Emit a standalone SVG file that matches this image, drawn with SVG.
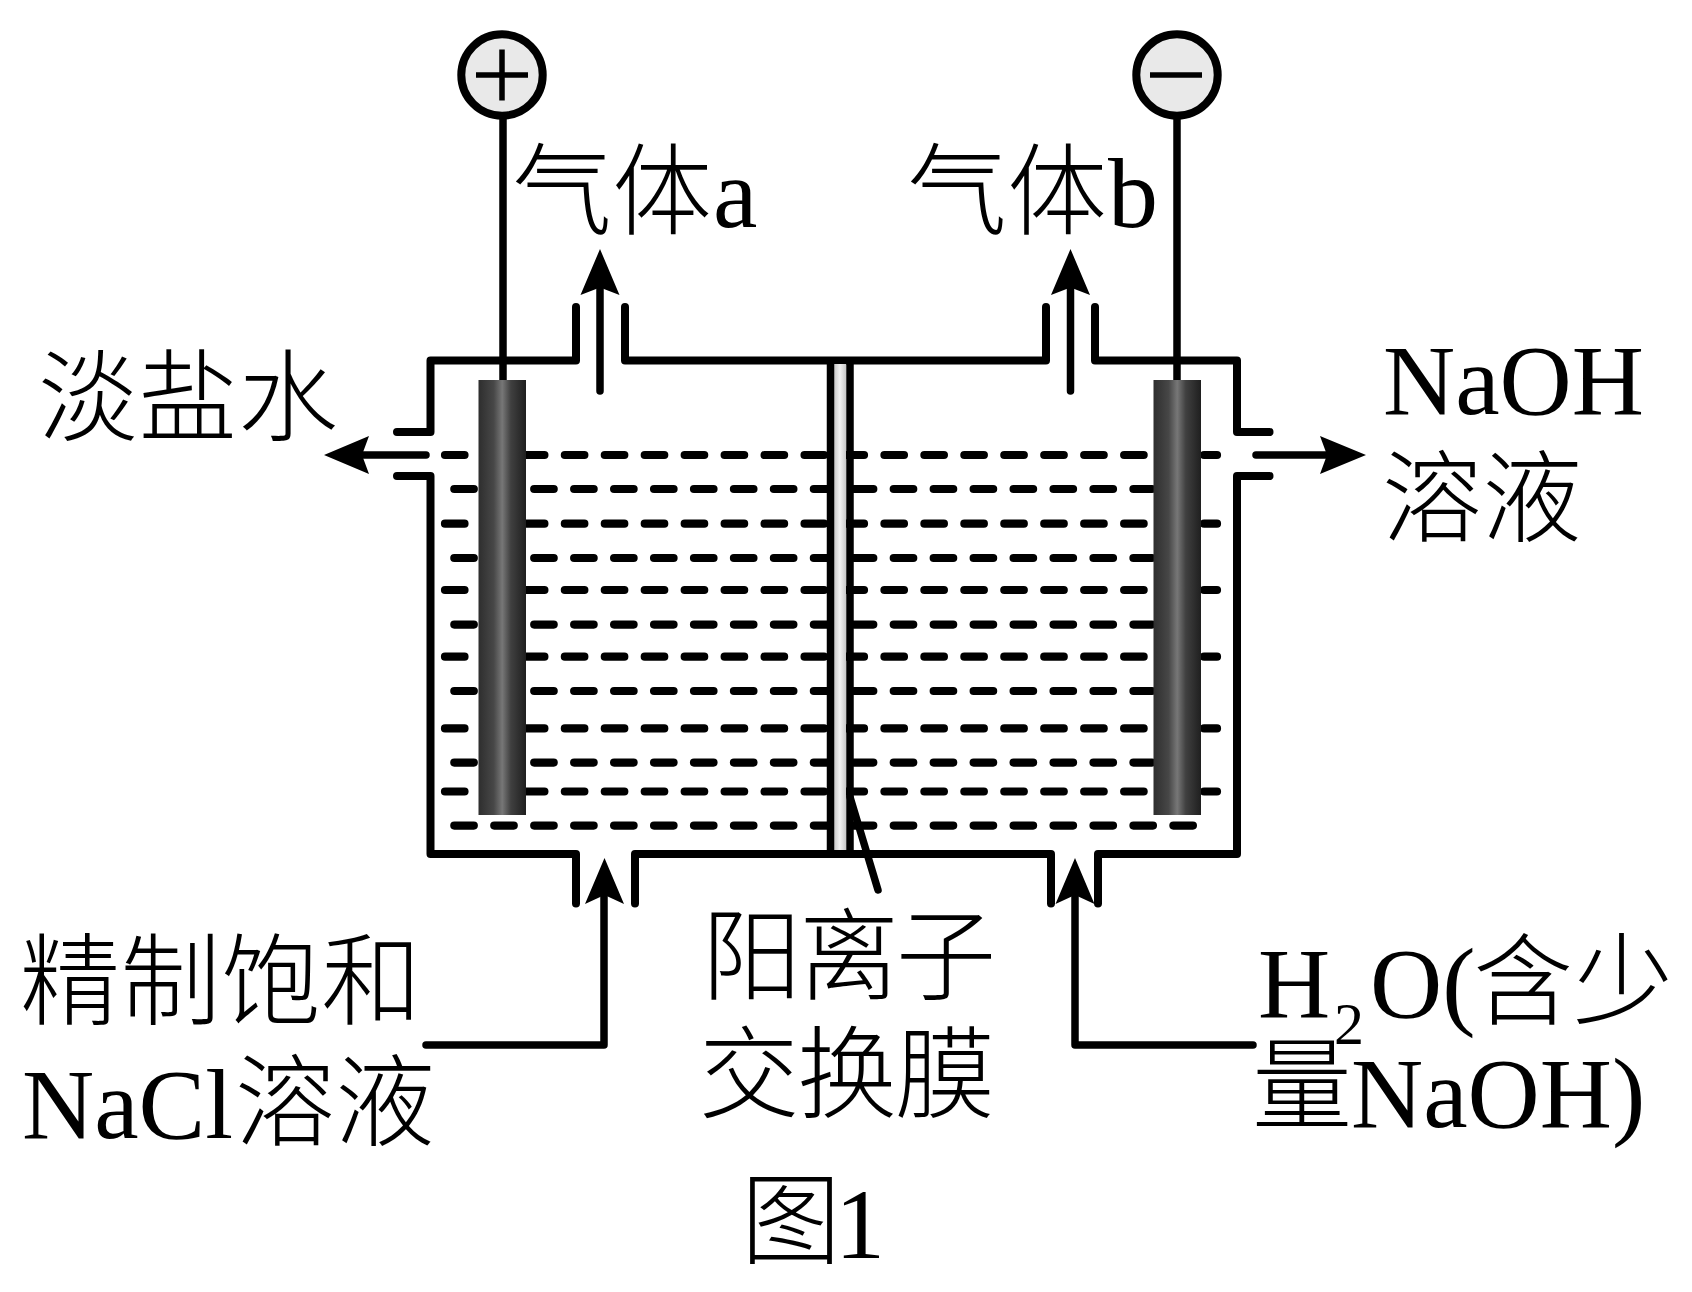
<svg xmlns="http://www.w3.org/2000/svg" width="1692" height="1292" viewBox="0 0 1692 1292">
<style>
.t{font-family:"Liberation Serif","Noto Sans CJK SC",serif;font-size:100px;font-weight:300;fill:#000}
.sub{font-size:60px}
.wall{fill:none;stroke:#000;stroke-width:8;stroke-linecap:round;stroke-linejoin:round}
.flow{fill:none;stroke:#000;stroke-width:7.5;stroke-linecap:round;stroke-linejoin:round}
.wire{fill:none;stroke:#000;stroke-width:7.5}
.liq{fill:none;stroke:#000;stroke-width:8.2;stroke-linecap:round;stroke-dasharray:19.5 20.45}
.head{fill:#000}
.term{fill:#e9e9e9;stroke:#000;stroke-width:8}
.sign{stroke:#000;stroke-width:5.5;fill:none}
</style>
<defs>
<linearGradient id="rod" x1="0" x2="1" y1="0" y2="0">
<stop offset="0" stop-color="#2e2e2e"/><stop offset=".32" stop-color="#474747"/><stop offset=".5" stop-color="#777"/><stop offset=".68" stop-color="#404040"/><stop offset="1" stop-color="#1f1f1f"/>
</linearGradient>
<linearGradient id="mem" x1="0" x2="1" y1="0" y2="0">
<stop offset="0" stop-color="#c8c8c8"/><stop offset=".5" stop-color="#f2f2f2"/><stop offset="1" stop-color="#c8c8c8"/>
</linearGradient>
<path id="up" d="M0 0L19.5 46L0 38.500L-19.500 46Z"/>
</defs>
<g id="liquid">
<path class="liq" d="M445 455H1217M445 523.700H1217M445 590H1217M445 656.700H1217M445 728.400H1217M445 791.500H1217"/>
<path class="liq" d="M454.300 489H1152M454.300 558H1152M454.300 624.600H1152M454.300 691H1152M454.300 762.600H1152"/>
<path class="liq" d="M454.300 825.600H1194.500"/>
</g>
<g id="tank">
<path class="wall" d="M397 432H430.500V360.500H576V307M625 307V360.500H1046V307M1095 307V360.500H1237V432H1269.500"/>
<path class="wall" d="M397 476H430.500V854H576V903.500M635 903.500V854H1051V903.500M1098 903.500V854H1237V476H1269.500"/>
</g>
<g id="membrane">
<rect x="834" y="364" width="12" height="486" fill="url(#mem)"/>
<path class="wire" d="M830.500 360.500V854M850 360.500V854"/>
</g>
<g id="anode">
<path class="wire" d="M503 119V381"/>
<rect x="478.500" y="380" width="47.500" height="435" fill="url(#rod)"/>
<circle class="term" cx="502" cy="75" r="40.700"/>
<path class="sign" d="M476 75H528M502 49.500V100.500"/>
</g>
<g id="cathode">
<path class="wire" d="M1177 119V381"/>
<rect x="1153.500" y="380" width="47.500" height="435" fill="url(#rod)"/>
<circle class="term" cx="1177" cy="75" r="40.700"/>
<path class="sign" d="M1150 75H1202"/>
</g>
<g id="connectors">
<path class="flow" d="M600 391V285"/>
<use href="#up" class="head" x="600" y="249"/>
<path class="flow" d="M1070.500 391V285"/>
<use href="#up" class="head" x="1070.500" y="249"/>
<path class="flow" d="M426 455H355"/>
<path class="head" d="M324 455L369 436L362 455L369 474Z"/>
<path class="flow" d="M1256 455H1330"/>
<path class="head" d="M1366 455L1320 436L1327 455L1320 474Z"/>
<path class="flow" d="M426 1045H604V890"/>
<path class="head" d="M604.500 858L624 904L604.500 895L585 904Z"/>
<path class="flow" d="M1253 1045H1075V890"/>
<path class="head" d="M1075 858L1094.500 904L1075 895L1055.500 904Z"/>
<path class="flow" d="M850 797L878 890"/>
</g>
<g id="labels">
<text class="t" x="38" y="433">淡盐水</text>
<text class="t" x="512" y="227">气体<tspan x="713">a</tspan></text>
<text class="t" x="907" y="227">气体<tspan x="1108">b</tspan></text>
<text class="t" x="1383" y="414">NaOH</text>
<text class="t" x="1382" y="534">溶液</text>
<text class="t" x="20" y="1017" letter-spacing="0.5">精制饱和</text>
<text class="t" x="22" y="1138">NaCl<tspan x="235">溶液</tspan></text>
<text class="t" x="702" y="992" letter-spacing="-3">阳离子</text>
<text class="t" x="699" y="1110" letter-spacing="-2">交换膜</text>
<text class="t" x="741" y="1256">图<tspan x="835" y="1258">1</tspan></text>
<text class="t" x="1258" y="1017">H</text>
<text class="t sub" x="1334" y="1044">2</text>
<text class="t" x="1370" y="1017">O(</text>
<text class="t" x="1473" y="1017">含少</text>
<text class="t" x="1252" y="1121">量</text>
<text class="t" x="1351" y="1127">NaOH)</text>
</g>
</svg>
